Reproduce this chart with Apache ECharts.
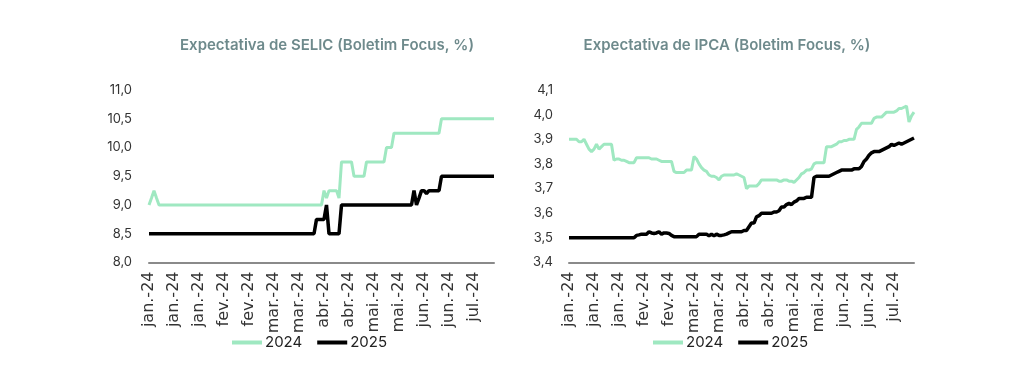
<!DOCTYPE html>
<html>
<head>
<meta charset="utf-8">
<script src="https://cdn.jsdelivr.net/npm/echarts@6/dist/echarts.min.js"></script>
<style>
html,body{margin:0;padding:0;background:#fff;}
#c{width:1024px;height:387px;}
</style>
</head>
<body>
<div id="c"></div>
<script>
// Month tick labels and number of daily (business-day) observations per month
const monthNames = ['jan.-24','fev.-24','mar.-24','abr.-24','mai.-24','jun.-24','jul.-24'];
const monthCounts = [22, 19, 20, 22, 21, 20, 15];

const selicTitle = 'Expectativa de SELIC (Boletim Focus, %)';
const ipcaTitle = 'Expectativa de IPCA (Boletim Focus, %)';
const seriesNames = ['2024', '2025'];

// SELIC expectations (%)
const selic2024 = [
  9.0, 9.12, 9.25, 9.12, 9.0, 9.0, 9.0, 9.0, 9.0, 9.0,
  9.0, 9.0, 9.0, 9.0, 9.0, 9.0, 9.0, 9.0, 9.0, 9.0,
  9.0, 9.0, 9.0, 9.0, 9.0, 9.0, 9.0, 9.0, 9.0, 9.0,
  9.0, 9.0, 9.0, 9.0, 9.0, 9.0, 9.0, 9.0, 9.0, 9.0,
  9.0, 9.0, 9.0, 9.0, 9.0, 9.0, 9.0, 9.0, 9.0, 9.0,
  9.0, 9.0, 9.0, 9.0, 9.0, 9.0, 9.0, 9.0, 9.0, 9.0,
  9.0, 9.0, 9.0, 9.0, 9.0, 9.0, 9.0, 9.0, 9.0, 9.0,
  9.25, 9.12, 9.25, 9.25, 9.25, 9.25, 9.12, 9.75, 9.75, 9.75,
  9.75, 9.75, 9.5, 9.5, 9.5, 9.5, 9.5, 9.75, 9.75, 9.75,
  9.75, 9.75, 9.75, 9.75, 9.75, 10.0, 10.0, 10.0, 10.25, 10.25,
  10.25, 10.25, 10.25, 10.25, 10.25, 10.25, 10.25, 10.25, 10.25, 10.25,
  10.25, 10.25, 10.25, 10.25, 10.25, 10.25, 10.25, 10.5, 10.5, 10.5,
  10.5, 10.5, 10.5, 10.5, 10.5, 10.5, 10.5, 10.5, 10.5, 10.5,
  10.5, 10.5, 10.5, 10.5, 10.5, 10.5, 10.5, 10.5, 10.5
];
const selic2025 = [
  8.5, 8.5, 8.5, 8.5, 8.5, 8.5, 8.5, 8.5, 8.5, 8.5,
  8.5, 8.5, 8.5, 8.5, 8.5, 8.5, 8.5, 8.5, 8.5, 8.5,
  8.5, 8.5, 8.5, 8.5, 8.5, 8.5, 8.5, 8.5, 8.5, 8.5,
  8.5, 8.5, 8.5, 8.5, 8.5, 8.5, 8.5, 8.5, 8.5, 8.5,
  8.5, 8.5, 8.5, 8.5, 8.5, 8.5, 8.5, 8.5, 8.5, 8.5,
  8.5, 8.5, 8.5, 8.5, 8.5, 8.5, 8.5, 8.5, 8.5, 8.5,
  8.5, 8.5, 8.5, 8.5, 8.5, 8.5, 8.5, 8.75, 8.75, 8.75,
  8.75, 9.0, 8.5, 8.5, 8.5, 8.5, 8.5, 9.0, 9.0, 9.0,
  9.0, 9.0, 9.0, 9.0, 9.0, 9.0, 9.0, 9.0, 9.0, 9.0,
  9.0, 9.0, 9.0, 9.0, 9.0, 9.0, 9.0, 9.0, 9.0, 9.0,
  9.0, 9.0, 9.0, 9.0, 9.0, 9.0, 9.25, 9.0, 9.12, 9.25,
  9.25, 9.2, 9.25, 9.25, 9.25, 9.25, 9.25, 9.5, 9.5, 9.5,
  9.5, 9.5, 9.5, 9.5, 9.5, 9.5, 9.5, 9.5, 9.5, 9.5,
  9.5, 9.5, 9.5, 9.5, 9.5, 9.5, 9.5, 9.5, 9.5
];

// IPCA expectations (%)
const ipca2024 = [
  3.90, 3.90, 3.90, 3.90, 3.89, 3.89, 3.90, 3.88, 3.86, 3.85,
  3.86, 3.88, 3.86, 3.87, 3.88, 3.88, 3.88, 3.88, 3.815, 3.82,
  3.82, 3.815, 3.815, 3.81, 3.805, 3.805, 3.805, 3.825, 3.825, 3.825,
  3.825, 3.825, 3.825, 3.82, 3.82, 3.82, 3.815, 3.81, 3.81, 3.81,
  3.81, 3.81, 3.77, 3.765, 3.765, 3.765, 3.765, 3.775, 3.775, 3.775,
  3.83, 3.82, 3.80, 3.785, 3.775, 3.77, 3.755, 3.75, 3.75, 3.745,
  3.735, 3.75, 3.755, 3.755, 3.755, 3.755, 3.755, 3.76, 3.755, 3.75,
  3.745, 3.70, 3.71, 3.71, 3.71, 3.71, 3.72, 3.735, 3.735, 3.735,
  3.735, 3.735, 3.735, 3.735, 3.73, 3.73, 3.735, 3.735, 3.73, 3.73,
  3.725, 3.735, 3.745, 3.76, 3.765, 3.775, 3.775, 3.78, 3.80, 3.805,
  3.805, 3.805, 3.805, 3.87, 3.87, 3.87, 3.875, 3.88, 3.89, 3.89,
  3.895, 3.895, 3.90, 3.90, 3.90, 3.94, 3.95, 3.965, 3.965, 3.965,
  3.965, 3.965, 3.985, 3.99, 3.99, 3.99, 4.00, 4.01, 4.01, 4.01,
  4.01, 4.015, 4.025, 4.025, 4.03, 4.035, 3.97, 3.995, 4.01
];
const ipca2025 = [
  3.50, 3.50, 3.50, 3.50, 3.50, 3.50, 3.50, 3.50, 3.50, 3.50,
  3.50, 3.50, 3.50, 3.50, 3.50, 3.50, 3.50, 3.50, 3.50, 3.50,
  3.50, 3.50, 3.50, 3.50, 3.50, 3.50, 3.50, 3.51, 3.512, 3.515,
  3.515, 3.515, 3.525, 3.52, 3.518, 3.52, 3.525, 3.515, 3.52, 3.52,
  3.518, 3.51, 3.505, 3.505, 3.505, 3.505, 3.505, 3.505, 3.505, 3.505,
  3.505, 3.505, 3.515, 3.515, 3.515, 3.515, 3.508, 3.515, 3.508, 3.515,
  3.51, 3.51, 3.512, 3.515, 3.52, 3.525, 3.525, 3.525, 3.525, 3.525,
  3.53, 3.53, 3.545, 3.56, 3.56, 3.585, 3.59, 3.60, 3.60, 3.60,
  3.60, 3.60, 3.605, 3.605, 3.61, 3.625, 3.625, 3.635, 3.64, 3.635,
  3.645, 3.65, 3.66, 3.66, 3.66, 3.665, 3.665, 3.665, 3.745, 3.75,
  3.75, 3.75, 3.75, 3.75, 3.75, 3.755, 3.76, 3.765, 3.77, 3.775,
  3.775, 3.775, 3.775, 3.775, 3.78, 3.78, 3.78, 3.79, 3.81, 3.82,
  3.835, 3.845, 3.85, 3.85, 3.85, 3.855, 3.86, 3.865, 3.87, 3.88,
  3.875, 3.88, 3.885, 3.88, 3.885, 3.89, 3.895, 3.90, 3.905
];

// category axis: one entry per observation, labelled by month
const categories = [];
monthNames.forEach((m, i) => { for (let k = 0; k < monthCounts[i]; k++) categories.push(m); });

const GREEN = '#9FE8C1';
const BLACK = '#000000';
const comma1 = v => v.toFixed(1).replace('.', ',');

function xAxisCfg(gi) {
  return {
    type: 'category', gridIndex: gi, data: categories, boundaryGap: false,
    axisLine: { show: true, lineStyle: { color: '#8a8a8a', width: 2 } },
    axisTick: { show: false },
    axisLabel: { rotate: 90, interval: 9, fontSize: 16, fontFamily: 'DejaVu Sans', color: '#333', margin: 9 },
    splitLine: { show: false }
  };
}
function yAxisCfg(gi, min, max, interval, margin) {
  return {
    type: 'value', gridIndex: gi, min: min, max: max, interval: interval,
    axisLine: { show: false }, axisTick: { show: false }, splitLine: { show: false },
    axisLabel: { formatter: comma1, fontSize: 13, fontFamily: 'Inter', color: '#333', margin: margin }
  };
}
function lineSeries(name, data, gi, color, width) {
  return {
    type: 'line', name: name, data: data, xAxisIndex: gi, yAxisIndex: gi,
    showSymbol: false, symbol: 'none', color: color,
    lineStyle: { color: color, width: width }, animation: false
  };
}
function legendCfg(left) {
  return {
    left: left, top: 335, padding: 0, data: seriesNames, icon: 'rect', itemWidth: 30, itemHeight: 4, itemGap: 15,
    textStyle: { fontSize: 15, fontFamily: 'Inter', color: '#222', padding: [0, 0, 0, -2] }
  };
}

const chart = echarts.init(document.getElementById('c'), null, { renderer: 'canvas' });
chart.setOption({
  animation: false,
  backgroundColor: '#ffffff',
  title: [
    { text: selicTitle, left: 322, top: 33, textAlign: 'center',
      textStyle: { fontSize: 15, fontWeight: 600, fontFamily: 'Inter', color: '#6E8A8C' } },
    { text: ipcaTitle, left: 722, top: 33, textAlign: 'center',
      textStyle: { fontSize: 15, fontWeight: 600, fontFamily: 'Inter', color: '#6E8A8C' } }
  ],
  legend: [legendCfg(232), legendCfg(653)],
  grid: [
    { left: 149, width: 345, top: 90, height: 172.5 },
    { left: 569, width: 345, top: 90, height: 172.5 }
  ],
  xAxis: [xAxisCfg(0), xAxisCfg(1)],
  yAxis: [yAxisCfg(0, 8, 11, 0.5, 17), yAxisCfg(1, 3.4, 4.1, 0.1, 16)],
  series: [
    lineSeries(seriesNames[0], selic2024, 0, GREEN, 3),
    lineSeries(seriesNames[1], selic2025, 0, BLACK, 3.5),
    lineSeries(seriesNames[0], ipca2024, 1, GREEN, 3),
    lineSeries(seriesNames[1], ipca2025, 1, BLACK, 3.5)
  ]
});
</script>
</body>
</html>
